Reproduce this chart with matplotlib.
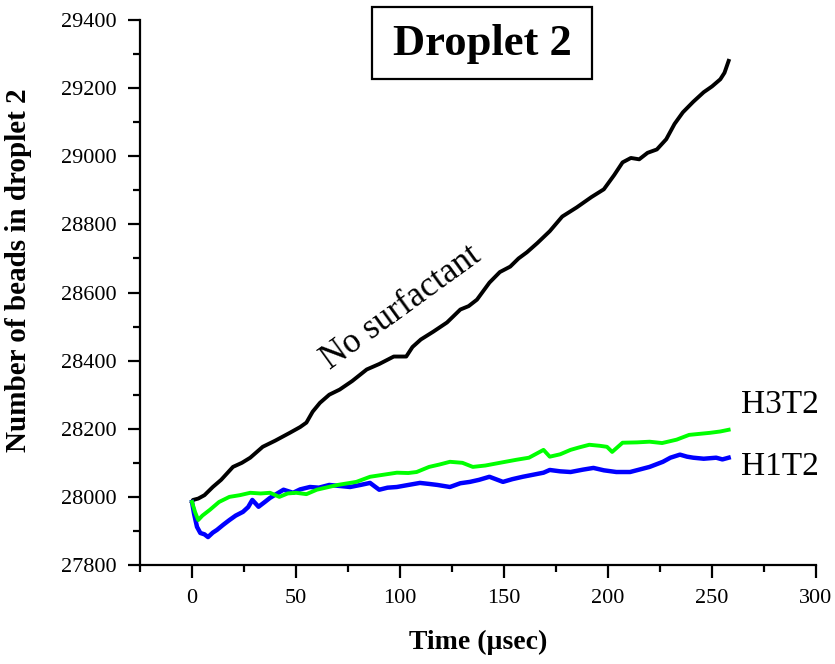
import matplotlib
matplotlib.use("Agg")
import matplotlib.pyplot as plt
from matplotlib.patches import Rectangle
from matplotlib.ticker import MultipleLocator

plt.rcParams['font.family'] = ['Liberation Serif', 'DejaVu Serif']

# ---- data ----
t_none = [0, 0.5, 3, 6, 10, 14, 19.7, 24, 28, 34, 40, 47, 52, 55, 58, 61.5, 66, 71, 77, 84,
          90, 97, 103, 106, 110, 116, 122.6, 129, 133, 137, 143, 148, 153, 157, 161, 166,
          172, 178, 185, 192, 198, 203, 207, 211, 215, 219, 223.5, 228, 232, 236, 241, 246,
          250, 254, 256, 258]
n_none = [27985, 27991, 27995, 28005, 28029, 28050, 28088, 28100, 28115, 28147, 28165, 28188,
          28205, 28218, 28250, 28276, 28300, 28315, 28340, 28374, 28390, 28412, 28412, 28440,
          28462, 28485, 28512, 28550, 28560, 28579, 28629, 28660, 28676, 28700, 28718, 28745,
          28780, 28823, 28850, 28880, 28903, 28945, 28982, 28995, 28991, 29010, 29020, 29050,
          29095, 29129, 29160, 29188, 29205, 29226, 29245, 29280]

t_h3t2 = [0, 1.5, 3, 5, 8.6, 13, 18, 23, 28, 33, 37.5, 42, 46, 50, 55, 60, 65, 70, 75, 79,
          85.6, 92, 98.5, 104, 108, 114, 119, 124, 130, 135, 141, 148, 156, 162, 169, 172,
          177, 182, 186, 191, 196, 199.5, 202, 207, 214, 220, 226, 233, 239, 244, 249, 254, 258]
n_h3t2 = [27985, 27955, 27932, 27945, 27962, 27985, 28000, 28005, 28012, 28010, 28012, 28000,
          28010, 28012, 28008, 28021, 28028, 28035, 28040, 28044, 28059, 28065, 28071, 28070,
          28073, 28088, 28095, 28103, 28100, 28088, 28092, 28100, 28109, 28115, 28138, 28118,
          28125, 28138, 28145, 28153, 28150, 28147, 28132, 28159, 28160, 28162, 28158, 28168,
          28182, 28185, 28188, 28192, 28197]

t_h1t2 = [0, 1, 2.4, 4, 6, 7.7, 10, 12, 15, 18, 21, 24.5, 27, 29, 32, 35, 37.5, 41, 44, 48.6,
          52, 56.7, 61, 66, 71, 76, 81, 85.6, 88, 90, 94, 98.5, 104, 109.6, 114, 118, 124, 129,
          133.6, 138, 143, 149.5, 154, 159, 164, 169, 172, 177, 182, 188, 193, 198, 204, 210.6,
          215, 220, 226.4, 230, 234.6, 238, 241, 246, 252, 255, 258]
n_h1t2 = [27985, 27950, 27912, 27894, 27890, 27882, 27895, 27903, 27918, 27932, 27945, 27956,
          27970, 27991, 27971, 27985, 27997, 28010, 28021, 28012, 28022, 28029, 28027, 28035,
          28032, 28029, 28035, 28041, 28030, 28021, 28027, 28029, 28035, 28041, 28038, 28035,
          28029, 28040, 28044, 28050, 28059, 28044, 28052, 28059, 28065, 28071, 28079, 28075,
          28073, 28080, 28085, 28078, 28073, 28073, 28080, 28088, 28103, 28115, 28124, 28118,
          28115, 28112, 28115, 28110, 28115]

x_ticks = [0, 50, 100, 150, 200, 250, 300]
y_ticks = [27800, 28000, 28200, 28400, 28600, 28800, 29000, 29200, 29400]

fig = plt.figure(figsize=(8.35, 6.64), dpi=100)
ax = fig.add_axes([140 / 835, 1 - 565 / 664, (816 - 140) / 835, (565 - 20) / 664])

ax.plot(t_none, n_none, color='black', lw=2.8)
ax.plot(t_h1t2, n_h1t2, color='#0000ff', lw=3.2)
ax.plot(t_h3t2, n_h3t2, color='#00ff00', lw=2.8)

ax.set_xlim(-25, 300)
ax.set_ylim(27800, 29400)
ax.set_xticks(x_ticks)
ax.set_yticks(y_ticks)
ax.xaxis.set_minor_locator(MultipleLocator(25))
ax.yaxis.set_minor_locator(MultipleLocator(100))

for s in ['top', 'right']:
    ax.spines[s].set_visible(False)
for s in ['left', 'bottom']:
    ax.spines[s].set_linewidth(1.6)

ax.tick_params(which='major', direction='out', length=9, width=1.6, labelsize=16, pad=8)
ax.tick_params(which='minor', direction='out', length=5, width=1.6)

ax.set_xlabel('Time (µsec)', fontsize=20, fontweight='bold', labelpad=16)
ax.set_ylabel('Number of beads in droplet 2', fontsize=21, fontweight='bold')
ax.yaxis.set_label_coords(-0.160, 0.541)

ax.text(100.5, 28556, 'No surfactant', rotation=36, rotation_mode='anchor',
        ha='center', va='center', fontsize=25)
ax.text(264, 28270, 'H3T2', ha='left', va='center', fontsize=24)
ax.text(264, 28088, 'H1T2', ha='left', va='center', fontsize=24)

# title box
fig.patches.append(Rectangle((372 / 835, 1 - 79 / 664), 220 / 835, 72 / 664,
                             transform=fig.transFigure, fill=False, lw=1.6, ec='black'))
fig.text(482 / 835, 1 - 44 / 664, 'Droplet 2', ha='center', va='center',
         fontsize=32, fontweight='bold')

fig.savefig('out.png', dpi=100)
